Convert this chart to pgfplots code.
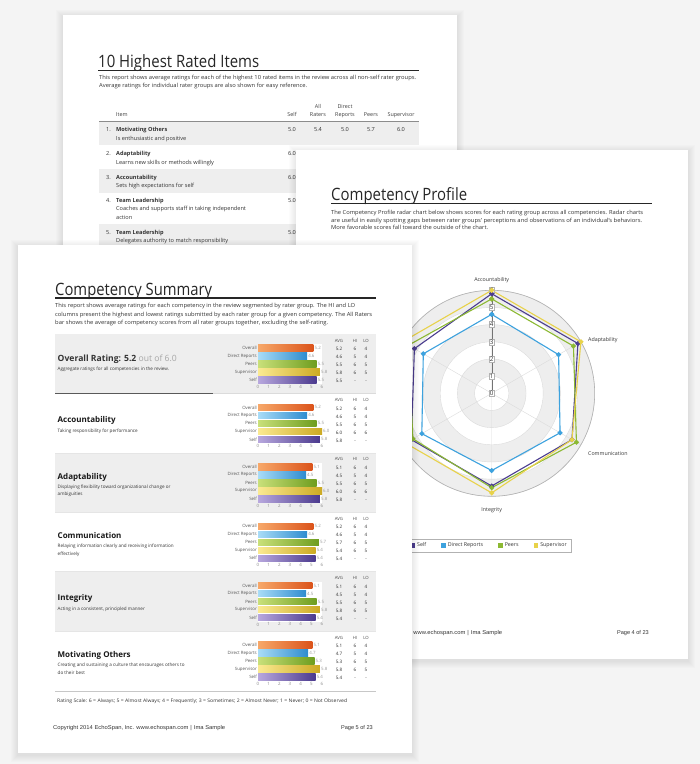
\documentclass[border=0pt]{standalone}
\usepackage{fontspec}
\setmainfont{Open Sans}
\newfontfamily\arialf{Liberation Sans}
\usepackage{graphicx}
\usepackage{pgfplots}
\pgfplotsset{compat=1.18}
\usepgfplotslibrary{polar}

\definecolor{bg}{HTML}{F4F4F4}
\definecolor{band}{HTML}{EEEEEE}
\definecolor{txt}{HTML}{333333}
\definecolor{orL}{HTML}{F7A869}\definecolor{orR}{HTML}{DB531A}
\definecolor{drL}{HTML}{A9DCF7}\definecolor{drR}{HTML}{2E8CCF}
\definecolor{peL}{HTML}{C9E07A}\definecolor{peR}{HTML}{6E9D1E}
\definecolor{suL}{HTML}{FBEA92}\definecolor{suR}{HTML}{CCAA22}
\definecolor{seL}{HTML}{B8A8DE}\definecolor{seR}{HTML}{4B3A8E}
\definecolor{rSelf}{HTML}{4B3D8F}
\definecolor{rDR}{HTML}{3DA2DE}
\definecolor{rPe}{HTML}{8CB933}
\definecolor{rSu}{HTML}{E8D24A}

\newcommand\fs[1]{\fontsize{#1}{#1}\selectfont}
\tikzset{t/.style={inner sep=0pt, text height=0.72em, text depth=0.2em, text=txt}}

\newcommand\page[4]{%
  \foreach \i in {1,...,7}{\fill[black,opacity=0.012] (#1-\i,-#2+\i-2) rectangle (#3+\i,-#4-\i-2);}
  \fill[white] (#1,-#2) rectangle (#3,-#4);}

\pgfplotsset{sumbar/.style={
  scale only axis, width=64pt, height=40pt, anchor=north west,
  xmin=0, xmax=6, ymin=-0.5, ymax=4.5, y dir=reverse,
  axis line style={draw=none}, axis background/.style={fill=white},
  xtick={0,...,6}, ytick={0,...,4},
  yticklabels={Overall,Direct Reports,Peers,Supervisor,Self},
  major tick length=0pt,
  /pgf/number format/assume math mode=true,
  tick label style={font=\fs{4.4}, inner sep=1pt},
  x tick label style={text=black!45},
  y tick label style={text=black!65},
  clip=false,
}}

\newcommand\bars[6]{%
\begin{axis}[sumbar, at={(258pt,-#1pt-9.5pt)}]
\addplot[xbar, bar shift=0pt, bar width=6.4pt, draw=none, left color=orL, right color=orR] coordinates {(#2,0)};
\addplot[xbar, bar shift=0pt, bar width=6.4pt, draw=none, left color=drL, right color=drR] coordinates {(#3,1)};
\addplot[xbar, bar shift=0pt, bar width=6.4pt, draw=none, left color=peL, right color=peR] coordinates {(#4,2)};
\addplot[xbar, bar shift=0pt, bar width=6.4pt, draw=none, left color=suL, right color=suR] coordinates {(#5,3)};
\addplot[xbar, bar shift=0pt, bar width=6.4pt, draw=none, left color=seL, right color=seR] coordinates {(#6,4)};
\addplot[draw=none, mark=none, point meta=x,
  nodes near coords={\pgfmathprintnumber[fixed,fixed zerofill,precision=1,assume math mode=true]{\pgfplotspointmeta}},
  every node near coord/.style={anchor=west, inner sep=1pt, font=\fs{4.4}, text=black!40}]
  coordinates {(#2,0) (#3,1) (#4,2) (#5,3) (#6,4)};
\end{axis}}

\newcommand\tabsec[2]{%
  \node[t,font=\fs{4.3},text=black!70] at (339,-#1-5) {AVG};
  \node[t,font=\fs{4.3},text=black!70] at (355,-#1-5) {HI};
  \node[t,font=\fs{4.3},text=black!70] at (366,-#1-5) {LO};
  \foreach \a/\h/\l [count=\k from 0] in {#2}{
    \node[t,font=\fs{4.6}] at (339,-#1-13.5-8*\k) {\a};
    \node[t,font=\fs{4.6}] at (355,-#1-13.5-8*\k) {\h};
    \node[t,font=\fs{4.6}] at (366,-#1-13.5-8*\k) {\l};
  }}

\newcommand\secone[3]{%
  \node[t,anchor=west,font=\fs{8}\bfseries,text=black!90] at (57.5,-#1-26) {#2};
  \node[t,anchor=west,font=\fs{4.6}] at (57.5,-#1-35.5) {#3};}
\newcommand\sectwo[4]{%
  \node[t,anchor=west,font=\fs{8}\bfseries,text=black!90] at (57.5,-#1-23.5) {#2};
  \node[t,anchor=west,font=\fs{4.6}] at (57.5,-#1-32.5) {#3};
  \node[t,anchor=west,font=\fs{4.6}] at (57.5,-#1-40) {#4};}

\newcommand\tline[4]{% x y width text
  \node[t,anchor=west,font=\fs{5.6}] at (#1,-#2) {\resizebox{#3pt}{\height}{#4}};}

\begin{document}
\begin{tikzpicture}[x=1pt,y=1pt]
\useasboundingbox (0,0) rectangle (700,-764);
\fill[bg] (0,0) rectangle (700,-764);

%================ PAGE 1 =================
\page{63}{15}{457}{400}
\node[anchor=base west, inner sep=0, text=black!85] at (98,-67) {\resizebox{161pt}{\height}{\fs{17}10 Highest Rated Items}};
\draw[line width=1.7pt, black!85] (98,-70.5) -- (419,-70.5);
\tline{99}{76.5}{317}{This report shows average ratings for each of the highest 10 rated items in the review across all non-self rater groups.}
\tline{99}{85}{208}{Average ratings for individual rater groups are also shown for easy reference.}
\begin{scope}[every node/.style={t,font=\fs{5.4},text=black!75}]
\node at (318,-106) {All};
\node at (345,-106) {Direct};
\node[anchor=west] at (116,-114) {Item};
\node at (292,-114) {Self};
\node at (318,-114) {Raters};
\node at (345,-114) {Reports};
\node at (371,-114) {Peers};
\node at (401,-114) {Supervisor};
\end{scope}
\fill[band] (99,-121) rectangle (419,-144.5);
\fill[band] (99,-168.5) rectangle (419,-192.5);
\fill[band] (99,-224) rectangle (419,-252);
\draw[black!45, line width=0.8pt] (99,-121) -- (419,-121);
\begin{scope}[every node/.style={t,font=\fs{5.6}}]
\node[anchor=west] at (106,-129) {1.};
\node[anchor=west,font=\fs{5.6}\bfseries] at (116,-129) {Motivating Others};
\node[anchor=west] at (116,-138) {Is enthusiastic and positive};
\node at (292,-129) {5.0};\node at (318,-129) {5.4};\node at (345,-129) {5.0};\node at (371,-129) {5.7};\node at (401,-129) {6.0};
\node[anchor=west] at (106,-153) {2.};
\node[anchor=west,font=\fs{5.6}\bfseries] at (116,-153) {Adaptability};
\node[anchor=west] at (116,-161.5) {Learns new skills or methods willingly};
\node at (292,-153) {6.0};
\node[anchor=west] at (106,-176.5) {3.};
\node[anchor=west,font=\fs{5.6}\bfseries] at (116,-176.5) {Accountability};
\node[anchor=west] at (116,-185) {Sets high expectations for self};
\node at (292,-176.5) {6.0};
\node[anchor=west] at (106,-199.5) {4.};
\node[anchor=west,font=\fs{5.6}\bfseries] at (116,-199.5) {Team Leadership};
\node[anchor=west] at (116,-208) {Coaches and supports staff in taking independent};
\node[anchor=west] at (116,-216.5) {action};
\node at (292,-199.5) {5.0};
\node[anchor=west] at (106,-231.5) {5.};
\node[anchor=west,font=\fs{5.6}\bfseries] at (116,-231.5) {Team Leadership};
\node[anchor=west] at (116,-240) {Delegates authority to match responsibility};
\node at (292,-231.5) {5.0};
\end{scope}

%================ PAGE 2 =================
\page{296}{150}{688}{659}
\node[anchor=base west, inner sep=0, text=black!85] at (331,-200) {\resizebox{136pt}{\height}{\fs{17}Competency Profile}};
\draw[line width=1.7pt, black!85] (331,-203.5) -- (652,-203.5);
\tline{331}{211.7}{312}{The Competency Profile radar chart below shows scores for each rating group across all competencies. Radar charts}
\tline{331}{219.5}{311}{are useful in easily spotting gaps between rater groups' perceptions and observations of an individual's behaviors.}
\tline{331}{227.3}{157}{More favorable scores fall toward the outside of the chart.}

% radar background rings
\begin{scope}[shift={(491.7,-393.3)}]
\fill[band] (0,0) circle (103);
\fill[white] (0,0) circle (85.83);
\fill[band] (0,0) circle (68.67);
\fill[white] (0,0) circle (51.5);
\fill[band] (0,0) circle (34.33);
\fill[white] (0,0) circle (17.17);
\end{scope}
\begin{polaraxis}[
  at={(491.7pt,-393.3pt)}, anchor=center, scale only axis, width=206pt, height=206pt,
  xmin=0, xmax=360, ymin=0, ymax=6,
  xtick={30,90,150,210,270,330}, xticklabels={},
  ytick={1,2,3,4,5,6}, yticklabels={},
  major tick length=0pt,
  xmajorgrids, ymajorgrids,
  major grid style={draw=black!14, line width=0.4pt},
  x axis line style={draw=black!30, line width=0.6pt},
  y axis line style={draw=none},
  clip=false,
  legend style={at={(axis description cs:0.8898,-0.2388)}, anchor=east, draw=black!30, line width=0.5pt, font=\fs{5.3}, text=txt, inner xsep=3pt, inner ysep=1.5pt, fill=white},
  legend columns=4,
  legend cell align=left,
  legend style={/tikz/every even column/.append style={column sep=13pt}},
  legend image code/.code={\fill[#1] (0pt,-1.8pt) rectangle (3.6pt,1.8pt);},
]
\addplot[rSelf, line width=1.1pt, mark=*, mark size=1.9pt] coordinates {(90,5.8) (30,5.8) (330,5.4) (270,5.4) (210,5.4) (150,5.2) (90,5.8)};
\addlegendentry{Self}
\addplot[rDR, line width=1.1pt, mark=*, mark size=1.9pt] coordinates {(90,4.6) (30,4.5) (330,4.6) (270,4.5) (210,4.7) (150,4.6) (90,4.6)};
\addlegendentry{Direct Reports}
\addplot[rPe, line width=1.1pt, mark=*, mark size=1.9pt] coordinates {(90,5.5) (30,5.5) (330,5.7) (270,5.5) (210,5.3) (150,5.6) (90,5.5)};
\addlegendentry{Peers}
\addplot[rSu, line width=1.1pt, mark=*, mark size=1.9pt] coordinates {(90,6.0) (30,6.0) (330,5.4) (270,5.8) (210,5.8) (150,6.0) (90,6.0)};
\addlegendentry{Supervisor}
\draw[black!55, line width=0.4pt] (axis cs:90,0) -- (axis cs:90,6);
\pgfplotsinvokeforeach{0,...,6}{
  \draw[black!55, line width=0.4pt] (axis cs:90,#1) ++(-2.5pt,0) -- ++(5pt,0);
  \node[draw=black!30, fill=white, inner xsep=1pt, inner ysep=0.8pt, font=\fs{6.2}, text=txt] at (axis cs:90,#1) {#1};
}
\end{polaraxis}
\begin{scope}[every node/.style={t,font=\fs{5.3}}]
\node at (491.7,-279) {Accountability};
\node[anchor=west] at (588,-339) {Adaptability};
\node[anchor=west] at (588,-453) {Communication};
\node at (491.7,-509) {Integrity};
\end{scope}
\node[t,anchor=west,font=\arialf\fs{5.6}] at (330,-632) {\resizebox{172pt}{\height}{Copyright 2014 EchoSpan, Inc. www.echospan.com\,\,|\,\,Ima Sample}};
\node[t,anchor=east,font=\arialf\fs{5.6}] at (649,-632) {Page 4 of 23};

%================ PAGE 3 =================
\page{18}{245}{412}{753}
\node[anchor=base west, inner sep=0, text=black!85] at (55,-295) {\resizebox{157pt}{\height}{\fs{17}Competency Summary}};
\draw[line width=1.7pt, black!85] (55,-298) -- (376,-298);
\tline{55}{305}{300}{This report shows average ratings for each competency in the review segmented by rater group. The HI and LO}
\tline{55}{313.5}{317}{columns present the highest and lowest ratings submitted by each rater group for a given competency. The All Raters}
\tline{55}{322}{273}{bar shows the average of competency scores from all rater groups together, excluding the self-rating.}

\fill[band] (55,-334) rectangle (376,-393.4);
\fill[band] (55,-452.8) rectangle (376,-512.2);
\fill[band] (55,-571.6) rectangle (376,-631);
\draw[black!65, line width=0.7pt] (55,-393.4) -- (213,-393.4);
\draw[black!14, line width=0.7pt] (213,-393.4) -- (376,-393.4);
\foreach \yy in {452.8,512.2,571.6,631}{\draw[black!10, line width=0.6pt] (55,-\yy) -- (376,-\yy);}
\draw[black!22, line width=0.7pt] (55,-691) -- (376,-691);

% section 1
\node[t,anchor=west,font=\fs{8.6}] at (57.5,-359) {\textbf{Overall Rating: 5.2} \textcolor{black!35}{out of 6.0}};
\node[t,anchor=west,font=\fs{4.6}] at (57.5,-368) {Aggregate ratings for all competencies in the review.};
\bars{334.5}{5.2}{4.6}{5.5}{5.8}{5.5}
\tabsec{334.5}{5.2/6/4,4.6/5/4,5.5/6/5,5.8/6/5,5.5/-/-}
% section 2
\secone{393.9}{Accountability}{Taking responsibility for performance}
\bars{393.9}{5.2}{4.6}{5.5}{6.0}{5.8}
\tabsec{393.9}{5.2/6/4,4.6/5/4,5.5/6/5,6.0/6/6,5.8/-/-}
% section 3
\sectwo{453.3}{Adaptability}{Displaying flexibility toward organizational change or}{ambiguities}
\bars{453.3}{5.1}{4.5}{5.5}{6.0}{5.8}
\tabsec{453.3}{5.1/6/4,4.5/5/4,5.5/6/5,6.0/6/6,5.8/-/-}
% section 4
\sectwo{512.7}{Communication}{Relaying information clearly and receiving information}{effectively}
\bars{512.7}{5.2}{4.6}{5.7}{5.4}{5.4}
\tabsec{512.7}{5.2/6/4,4.6/5/4,5.7/6/5,5.4/6/5,5.4/-/-}
% section 5
\secone{572.1}{Integrity}{Acting in a consistent, principled manner}
\bars{572.1}{5.1}{4.5}{5.5}{5.8}{5.4}
\tabsec{572.1}{5.1/6/4,4.5/5/4,5.5/6/5,5.8/6/5,5.4/-/-}
% section 6
\sectwo{631.5}{Motivating Others}{Creating and sustaining a culture that encourages others to}{do their best}
\bars{631.5}{5.1}{4.7}{5.3}{5.8}{5.4}
\tabsec{631.5}{5.1/6/4,4.7/5/4,5.3/6/5,5.8/6/5,5.4/-/-}

\node[t,anchor=west,font=\fs{4.8}] at (57,-700) {\resizebox{290pt}{\height}{Rating Scale: 6 = Always; 5 = Almost Always; 4 = Frequently; 3 = Sometimes; 2 = Almost Never; 1 = Never; 0 = Not Observed}};
\node[t,anchor=west,font=\arialf\fs{5.6}] at (53,-727) {\resizebox{172pt}{\height}{Copyright 2014 EchoSpan, Inc. www.echospan.com\,\,|\,\,Ima Sample}};
\node[t,anchor=east,font=\arialf\fs{5.6}] at (373,-727) {Page 5 of 23};
\end{tikzpicture}
\end{document}
